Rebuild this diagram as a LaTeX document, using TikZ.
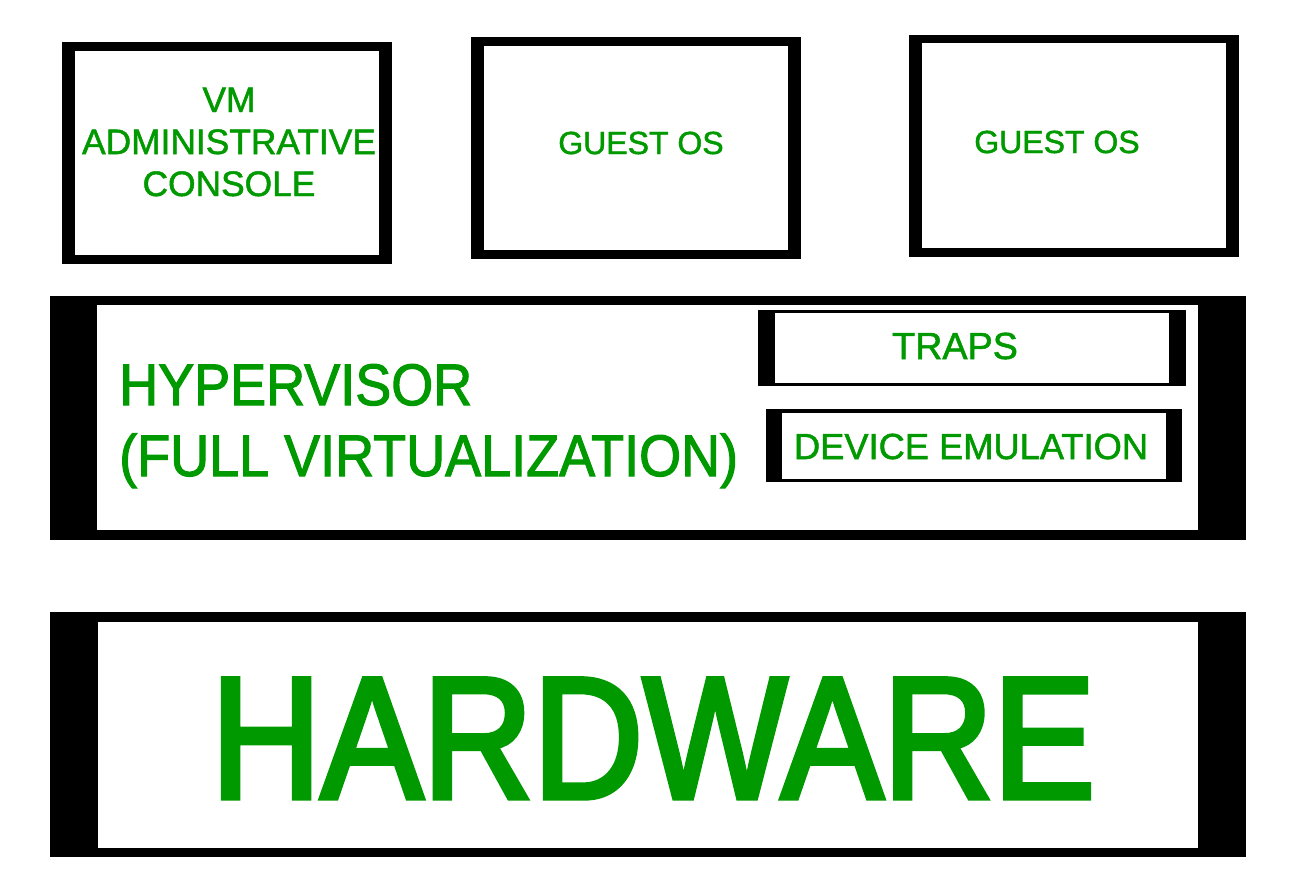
\documentclass[tikz,border=0pt]{standalone}
\usepackage{fontspec}
\setmainfont[FakeBold=1.4]{Liberation Sans}
\newfontfamily\narrowfont[FakeStretch=0.92,FakeBold=1.8]{Liberation Sans}
\newfontfamily\hwfont[FakeStretch=0.88,FakeBold=3]{Liberation Sans}
\usepackage{tikz}
\definecolor{textgreen}{RGB}{0,153,0}
\tikzset{
  label/.style={text=textgreen, inner sep=0pt},
}

\begin{document}
\begin{tikzpicture}[x=0.75pt,y=-0.75pt]
       \useasboundingbox (0,0) rectangle (1306,892);
       % virtual machines
       \fill[black] (  62, 42) rectangle ( 392,264);
       \fill[white] (  75, 51) rectangle ( 379,255);
       \fill[black] ( 471, 37) rectangle ( 801,259);
       \fill[white] ( 484, 46) rectangle ( 788,250);
       \fill[black] ( 909, 35) rectangle (1239,257);
       \fill[white] ( 922, 43) rectangle (1226,248);
       % hypervisor layer
       \fill[black] (  50,296) rectangle (1246,540);
       \fill[white] (  97,305) rectangle (1198,530);
       \fill[black] ( 758,310) rectangle (1186,386);
       \fill[white] ( 775,313) rectangle (1169,383);
       \fill[black] ( 766,409) rectangle (1182,482);
       \fill[white] ( 782,413) rectangle (1166,479);
       % hardware layer
       \fill[black] (  50,612) rectangle (1246,857);
       \fill[white] (  98,622) rectangle (1198,848);
       % labels (base = baseline of the last line)
       \node[label, anchor=base, align=center,
             font=\fontsize{26.5}{31.5}\selectfont] (admin) at ( 229,196)
             {VM\\ADMINISTRATIVE\\CONSOLE};
       \node[label, anchor=base, font=\fontsize{24}{28}\selectfont] (guesta) at ( 641,154) {GUEST OS};
       \node[label, anchor=base, font=\fontsize{24}{28}\selectfont] (guestb) at (1057,153) {GUEST OS};
       \node[label, anchor=base west, align=left,
             font=\narrowfont\fontsize{44}{53.2}\selectfont] (hyper) at ( 119,476)
             {HYPERVISOR\\(FULL VIRTUALIZATION)};
       \node[label, anchor=base, font=\fontsize{28.3}{32}\selectfont] (traps) at ( 955,359) {TRAPS};
       \node[label, anchor=base, font=\fontsize{27.2}{32}\selectfont] (devemu) at ( 971,459) {DEVICE EMULATION};
       \node[label, anchor=base, font=\hwfont\fontsize{130}{140}\selectfont] (hw) at ( 653,798) {HARDWARE};
      \end{tikzpicture}
\end{document}
